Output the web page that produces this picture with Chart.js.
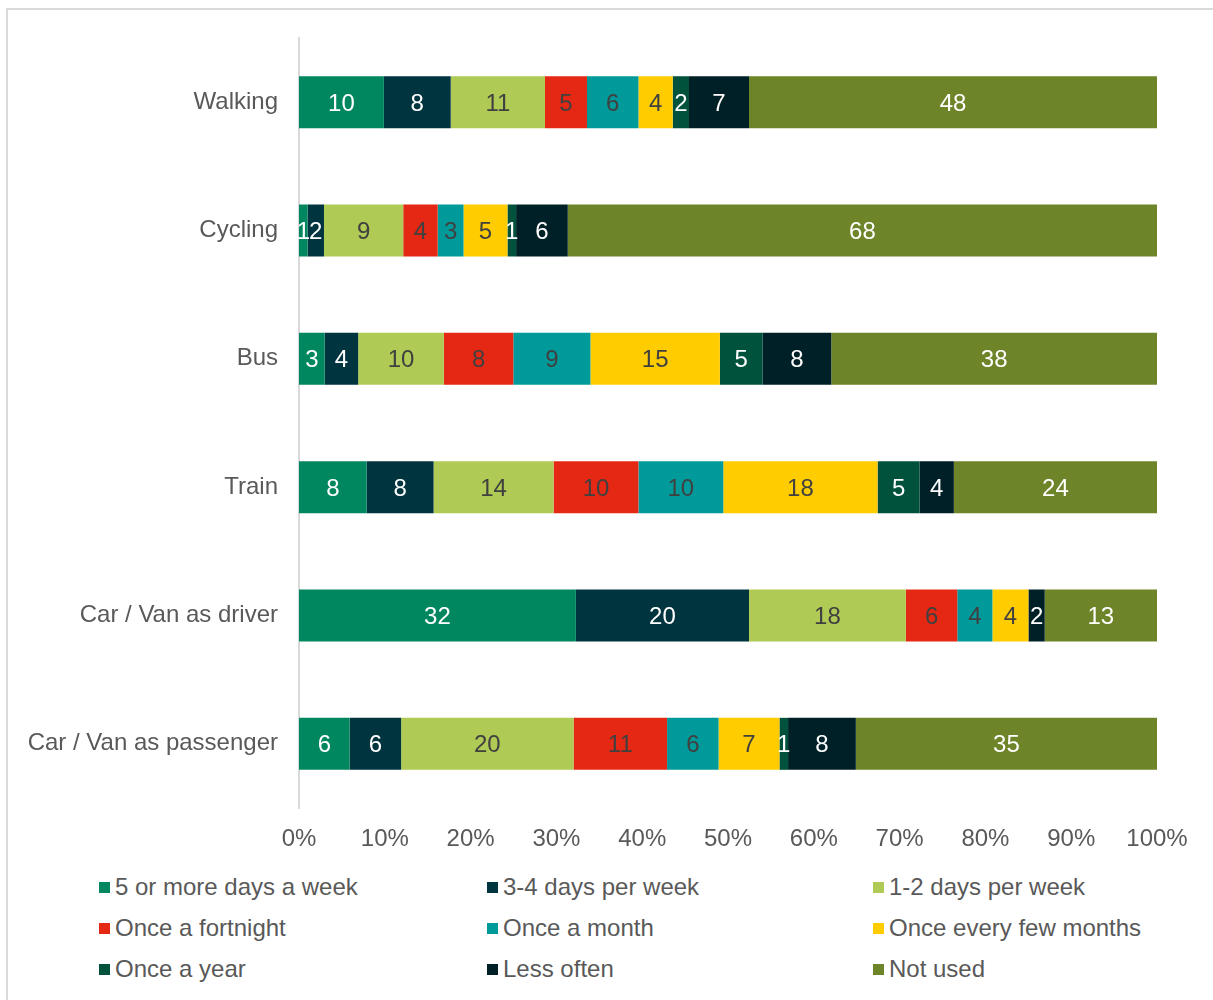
<!doctype html>
<html lang="en">
<head>
<meta charset="utf-8">
<title>Frequency of use by mode</title>
<script src="https://cdn.jsdelivr.net/npm/chart.js"></script>
<style>
  body { margin: 0; background: #fff; font-family: "Liberation Sans", Arial, sans-serif; }
  .frame { position: absolute; left: 6px; top: 8px; width: 1230px; height: 1010px;
           border-left: 2px solid #d9d9d9; border-top: 2px solid #d9d9d9; }
  #modeChart { position: absolute; left: 0; top: 0; }
  #legend { position: absolute; left: 99px; top: 866px; display: grid;
            grid-template-columns: 388px 386px 320px; }
  .item { display: flex; align-items: center; height: 41px; font-size: 24px; color: #595959; white-space: nowrap; }
  .swatch { width: 11px; height: 11px; margin-right: 5px; margin-top: 2px; flex: none; }
</style>
</head>
<body>
<div class="frame"></div>
<canvas id="modeChart" width="1213" height="858"></canvas>
<div id="legend"></div>

<script>
    // categories, top to bottom
    const modes = ['Walking', 'Cycling', 'Bus', 'Train', 'Car / Van as driver', 'Car / Van as passenger'];

    // percentages per frequency band, same order as modes
    const fiveOrMore = [9.9, 1.0, 3.0, 7.9, 32.3, 5.9];
    const threeFour  = [7.8, 1.9, 3.9, 7.8, 20.2, 6.0];
    const oneTwo     = [11.0, 9.2, 10.0, 14.0, 18.3, 20.1];
    const fortnight  = [4.9, 4.0, 8.1, 9.9, 6.0, 10.9];
    const month      = [6.0, 3.0, 9.0, 9.9, 4.1, 6.0];
    const fewMonths  = [4.0, 5.1, 15.1, 18.0, 4.2, 7.1];
    const onceYear   = [1.9, 1.0, 5.0, 4.9, 0, 1.0];
    const lessOften  = [7.0, 6.0, 8.0, 4.0, 1.9, 7.9];
    const notUsed    = [47.6, 68.4, 38.0, 23.7, 13.1, 35.1];

    const xTicks = [0, 10, 20, 30, 40, 50, 60, 70, 80, 90, 100];

    const series = [
        { label: '5 or more days a week',  values: fiveOrMore, color: '#00875f', text: '#ffffff' },
        { label: '3-4 days per week',      values: threeFour,  color: '#00343f', text: '#ffffff' },
        { label: '1-2 days per week',      values: oneTwo,     color: '#afca55', text: '#404040' },
        { label: 'Once a fortnight',       values: fortnight,  color: '#e52814', text: '#404040' },
        { label: 'Once a month',           values: month,      color: '#009a9a', text: '#404040' },
        { label: 'Once every few months',  values: fewMonths,  color: '#ffcc00', text: '#404040' },
        { label: 'Once a year',            values: onceYear,   color: '#00523c', text: '#ffffff' },
        { label: 'Less often',             values: lessOften,  color: '#002027', text: '#ffffff' },
        { label: 'Not used',               values: notUsed,    color: '#6e8428', text: '#ffffff' }
    ];

    // 100% stacked: scale each row to its own total
    const rowTotals = modes.map((m, j) => series.reduce((s, d) => s + d.values[j], 0));

    const datasets = series.map(d => ({
        label: d.label,
        data: d.values.map((v, j) => v / rowTotals[j] * 100),
        raw: d.values,
        labelColor: d.text,
        backgroundColor: d.color,
        borderWidth: 0,
        categoryPercentage: 1,
        barPercentage: 0.405
    }));

    const segmentLabels = {
        id: 'segmentLabels',
        afterDatasetsDraw(chart) {
            const ctx = chart.ctx;
            ctx.save();
            ctx.font = '24px "Liberation Sans", Arial, sans-serif';
            ctx.textAlign = 'center';
            ctx.textBaseline = 'middle';
            chart.data.datasets.forEach((ds, i) => {
                chart.getDatasetMeta(i).data.forEach((bar, j) => {
                    const raw = ds.raw[j];
                    if (raw < 0.5) return;
                    ctx.fillStyle = ds.labelColor;
                    ctx.fillText(Math.round(raw), (bar.x + bar.base) / 2, bar.y + 2);
                });
            });
            ctx.restore();
        }
    };

    Chart.defaults.font.family = '"Liberation Sans", Arial, sans-serif';

    new Chart(document.getElementById('modeChart').getContext('2d'), {
        type: 'bar',
        data: { labels: modes, datasets: datasets },
        plugins: [segmentLabels],
        options: {
            indexAxis: 'y',
            responsive: false,
            animation: false,
            layout: { padding: { top: 38, right: 56, left: 0, bottom: 0 } },
            plugins: {
                legend: { display: false },
                tooltip: { enabled: false }
            },
            scales: {
                x: {
                    stacked: true,
                    min: 0,
                    max: 100,
                    afterBuildTicks: scale => { scale.ticks = xTicks.map(v => ({ value: v })); },
                    ticks: { callback: v => v + '%', color: '#595959', font: { size: 24 }, padding: 17, maxRotation: 0 },
                    grid: { display: false, drawTicks: false },
                    border: { display: false },
                    afterFit: scale => { scale.height = 50; }
                },
                y: {
                    stacked: true,
                    ticks: { color: '#595959', font: { size: 24 }, padding: 21 },
                    grid: { display: false, drawTicks: false },
                    border: { display: true, color: '#d9d9d9', width: 2 },
                    afterFit: scale => { scale.width = 299; }
                }
            }
        }
    });

    // legend laid out in three columns like the original
    const legend = document.getElementById('legend');
    series.forEach(d => {
        const item = document.createElement('div');
        item.className = 'item';
        item.innerHTML = '<span class="swatch" style="background:' + d.color + '"></span>' + d.label;
        legend.appendChild(item);
    });
</script>
</body>
</html>
